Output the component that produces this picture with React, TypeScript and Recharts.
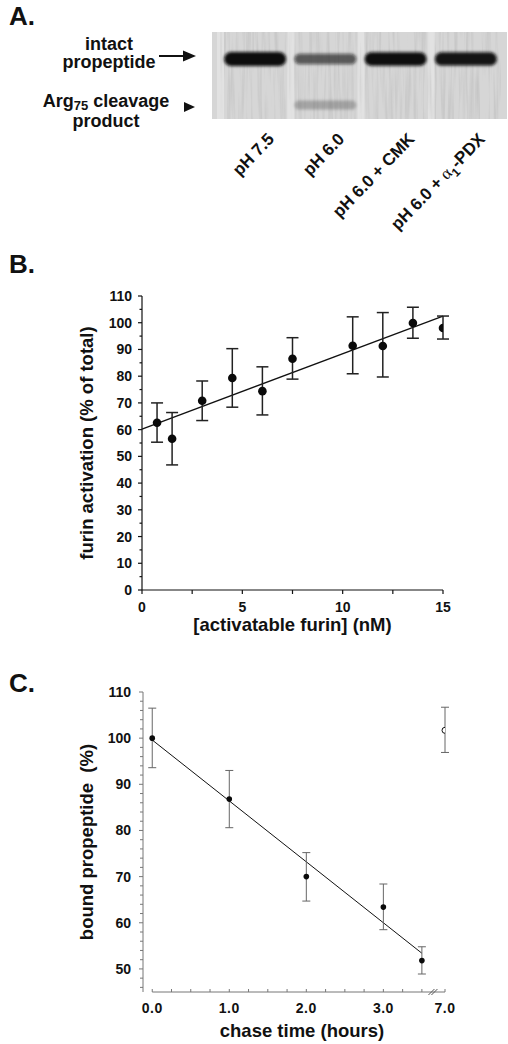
import React from 'react';
import {
  ComposedChart,
  ScatterChart,
  Scatter,
  Bar,
  XAxis,
  YAxis,
  ErrorBar,
  ReferenceLine,
  ReferenceDot,
  CartesianGrid,
} from 'recharts';

const FONT = '"Liberation Sans", Arial, Helvetica, sans-serif';

// ---------- Panel A: gel ----------
const lanes = ['pH 7.5', 'pH 6.0', 'pH 6.0 + CMK', 'pH 6.0 + α1-PDX'];
const intactIntensity = [1.0, 0.6, 0.95, 0.92];
const cleavageIntensity = [0, 0.22, 0, 0];
const INTACT_MOBILITY = 31;
const CLEAVAGE_MOBILITY = 84;
const GEL_DEPTH = 100;

// ---------- Panel B ----------
const furinConc = [0.75, 1.5, 3, 4.5, 6, 7.5, 10.5, 12, 13.5, 15];
const furinActivation = [62.6, 56.6, 70.8, 79.3, 74.4, 86.5, 91.4, 91.3, 99.9, 98.0];
const furinErrLow = [55.3, 46.8, 63.4, 68.4, 65.5, 78.9, 80.9, 79.7, 94.2, 93.9];
const furinErrHigh = [70.0, 66.4, 78.2, 90.3, 83.5, 94.4, 102.2, 103.8, 105.8, 102.5];
const furinFitX = [0, 15];
const furinFitY = [60.2, 102.5];
const furinYTicks = [0, 5, 10, 15, 20, 25, 30, 35, 40, 45, 50, 55, 60, 65, 70, 75, 80, 85, 90, 95, 100, 105, 110];
const furinXTicks = [0, 2.5, 5, 7.5, 10, 12.5, 15];

// ---------- Panel C ----------
const chaseHours = [0, 1, 2, 3, 3.5];
const boundPct = [100.0, 86.8, 70.0, 63.4, 51.8];
const boundLow = [93.6, 80.6, 64.7, 58.5, 48.9];
const boundHigh = [106.5, 93.0, 75.2, 68.4, 54.8];
const controlHours = [7.0];
const controlPct = [101.7];
const controlLow = [96.9];
const controlHigh = [106.7];
const chaseFitX = [0, 3.5];
const chaseFitY = [99.6, 53.4];
const boundYTicks = [46, 48, 50, 52, 54, 56, 58, 60, 62, 64, 66, 68, 70, 72, 74, 76, 78, 80, 82, 84, 86, 88, 90, 92, 94, 96, 98, 100, 102, 104, 106, 108, 110];
const chaseXTicksHours = [0, 0.25, 0.5, 0.75, 1, 1.25, 1.5, 1.75, 2, 2.25, 2.5, 2.75, 3, 3.25, 3.5, 7];

// broken x axis: everything past the break is drawn at the break position
const BREAK_AT = 3.6;
const BREAK_POS = 3.8;
const toAxis = (h: number) => (h <= BREAK_AT ? h : BREAK_POS + (h - 7) * 0.1);
const fromAxis = (p: number) => (p <= BREAK_AT ? p : 7 + (p - BREAK_POS) / 0.1);

// ---------- data tables ----------
const laneData = lanes.map((lane) => ({ lane, depth: GEL_DEPTH }));
const intactBands = lanes.map((lane, i) => ({ lane, mobility: INTACT_MOBILITY, intensity: intactIntensity[i], kind: 'intact' }));
const cleavageBands = lanes.map((lane, i) => ({ lane, mobility: CLEAVAGE_MOBILITY, intensity: cleavageIntensity[i], kind: 'cleavage' }));

const furinRows = furinConc.map((x, i) => ({
  x,
  y: furinActivation[i],
  err: [furinActivation[i] - furinErrLow[i], furinErrHigh[i] - furinActivation[i]],
}));
const furinFit = furinFitX.map((x, i) => ({ x, y: furinFitY[i] }));

const chaseRows = chaseHours.map((h, i) => ({
  x: toAxis(h),
  y: boundPct[i],
  err: [boundPct[i] - boundLow[i], boundHigh[i] - boundPct[i]],
}));
const controlRows = controlHours.map((h, i) => ({
  x: toAxis(h),
  y: controlPct[i],
  err: [controlPct[i] - controlLow[i], controlHigh[i] - controlPct[i]],
}));
const chaseFit = chaseFitX.map((x, i) => ({ x, y: chaseFitY[i] }));
const chaseXTicks = chaseXTicksHours.map(toAxis);

// ---------- shapes / ticks ----------
const LaneTrack = (p: any) => {
  const x = Number(p.x), y = Number(p.y), w = Number(p.width), h = Math.abs(Number(p.height));
  const top = Math.min(y, y + Number(p.height));
  return (
    <g>
      <rect x={x} y={top} width={w} height={h} fill="#ccc" filter="url(#gelNoise)" />
      <rect x={x - 3} y={top} width={7} height={h} fill="#fff" opacity={0.3} />
    </g>
  );
};

const Band = (p: any) => {
  const I = p.payload?.intensity ?? 0;
  if (!I) return <g />;
  const w = 62;
  const h = p.payload.kind === 'cleavage' ? 9 : 5 + 9 * I;
  return (
    <g filter="url(#bandBlur)">
      <rect x={p.cx - w / 2} y={p.cy - h / 2} width={w} height={h} rx={h / 2} fill="#0b0b0b" fillOpacity={Math.min(1, I * 1.05)} />
    </g>
  );
};

const LaneTick = (p: any) => {
  const v: string = p.payload.value;
  let content: any = v;
  if (v.includes('α1')) {
    const [pre, post] = v.split('α1');
    content = (
      <>
        {pre}
        <tspan fontFamily="'Liberation Serif', 'DejaVu Serif', serif" fontWeight="normal">α</tspan>
        <tspan dy={5} fontSize={12}>1</tspan>
        <tspan dy={-5}>{post}</tspan>
      </>
    );
  }
  return (
    <g transform={`translate(${p.x + 20},${p.y + 21}) rotate(-46)`}>
      <text x={0} y={0} textAnchor="end" fontFamily={FONT} fontWeight="bold" fontSize={17} fill="#111">
        {content}
      </text>
    </g>
  );
};

const BYTick = (p: any) => {
  const v = p.payload.value;
  const major = v % 10 === 0;
  return (
    <g>
      <line x1={p.x - (major ? 4 : 2.5)} x2={p.x} y1={p.y} y2={p.y} stroke="#111" strokeWidth={1.2} />
      {major && (
        <text x={p.x - 10} y={p.y + 5} textAnchor="end" fontFamily={FONT} fontWeight="bold" fontSize={14} fill="#111">
          {v}
        </text>
      )}
    </g>
  );
};

const BXTick = (p: any) => {
  const v = p.payload.value;
  const major = v % 5 === 0;
  return (
    <g>
      <line x1={p.x} x2={p.x} y1={p.y} y2={p.y + 4} stroke="#111" strokeWidth={1.2} />
      {major && (
        <text x={p.x} y={p.y + 22} textAnchor="middle" fontFamily={FONT} fontWeight="bold" fontSize={14} fill="#111">
          {v}
        </text>
      )}
    </g>
  );
};

const CYTick = (p: any) => {
  const v = p.payload.value;
  const major = v % 10 === 0;
  return (
    <g>
      <line x1={p.x - (major ? 4 : 3)} x2={p.x} y1={p.y} y2={p.y} stroke="#777" strokeWidth={1} />
      {major && (
        <text x={p.x - 12} y={p.y + 5} textAnchor="end" fontFamily={FONT} fontWeight="bold" fontSize={14} fill="#111">
          {v}
        </text>
      )}
    </g>
  );
};

const CXTick = (p: any) => {
  const v = p.payload.value;
  const hours = fromAxis(v);
  const major = Math.abs(hours - Math.round(hours)) < 1e-6;
  return (
    <g>
      <line x1={p.x} x2={p.x} y1={p.y} y2={p.y - 3} stroke="#777" strokeWidth={1} />
      {major && (
        <text x={p.x} y={p.y + 21} textAnchor="middle" fontFamily={FONT} fontWeight="bold" fontSize={14} letterSpacing={0.5} fill="#111">
          {hours.toFixed(1)}
        </text>
      )}
    </g>
  );
};

const BreakMark = (p: any) => (
  <g stroke="#555" strokeWidth={1}>
    <line x1={p.cx - 5} y1={p.cy + 3} x2={p.cx + 1} y2={p.cy - 3} />
    <line x1={p.cx - 2} y1={p.cy + 3} x2={p.cx + 4} y2={p.cy - 3} />
  </g>
);

const yTitle = (text: string) => (props: any) => {
  const vb = props.viewBox || {};
  const cx = 93;
  const cy = (vb.y ?? 0) + (vb.height ?? 0) / 2;
  return (
    <text x={cx} y={cy} transform={`rotate(-90 ${cx} ${cy})`} textAnchor="middle" fontFamily={FONT} fontWeight="bold" fontSize={18.5} fill="#111">
      {text}
    </text>
  );
};

const xTitle = (text: string, dx: number, dy: number) => (props: any) => {
  const vb = props.viewBox || {};
  return (
    <text x={(vb.x ?? 0) + (vb.width ?? 0) / 2 + dx} y={(vb.y ?? 0) + dy} textAnchor="middle" fontFamily={FONT} fontWeight="bold" fontSize={18.5} fill="#111">
      {text}
    </text>
  );
};

export default function App() {
  return (
    <div style={{ position: 'absolute', left: 0, top: 0, width: 508, height: 1044, background: '#fff', overflow: 'hidden' }}>
      <svg width={1} height={1} style={{ position: 'absolute', left: 0, top: 0 }}>
        <defs>
          <filter id="gelNoise" x="0" y="0" width="1" height="1" colorInterpolationFilters="sRGB">
            <feTurbulence type="fractalNoise" baseFrequency="0.35 0.015" numOctaves={2} seed={7} result="t" />
            <feColorMatrix in="t" type="matrix" values="0 0 0 0 0.62  0 0 0 0 0.62  0 0 0 0 0.62  0.7 0 0 0 -0.3" />
          </filter>
          <filter id="bandBlur" x="-0.2" y="-1" width="1.4" height="3">
            <feGaussianBlur stdDeviation="1.4" />
          </filter>
        </defs>
      </svg>

      {/* Panel A */}
      <div style={{ position: 'absolute', left: 0, top: 0 }}>
        <ComposedChart width={508} height={240} data={laneData} margin={{ top: 32, right: 1, bottom: 0, left: 212 }} barCategoryGap={0}>
          <CartesianGrid fill="#d6d6d6" stroke="none" horizontal={false} vertical={false} />
          <XAxis
            dataKey="lane"
            type="category"
            allowDuplicatedCategory={false}
            padding={{ left: 8, right: 6 }}
            height={121}
            axisLine={false}
            tickLine={false}
            tickSize={0}
            tickMargin={0}
            interval={0}
            tick={(p: any) => <LaneTick {...p} />}
          />
          <YAxis type="number" domain={[0, GEL_DEPTH]} reversed hide />
          <Bar dataKey="depth" shape={(p: any) => <LaneTrack {...p} />} isAnimationActive={false} />
          <Scatter data={intactBands} dataKey="mobility" shape={(p: any) => <Band {...p} />} isAnimationActive={false} />
          <Scatter data={cleavageBands} dataKey="mobility" shape={(p: any) => <Band {...p} />} isAnimationActive={false} />
        </ComposedChart>
      </div>

      {/* Panel B */}
      <div style={{ position: 'absolute', left: 0, top: 250 }}>
        <ScatterChart width={508} height={390} margin={{ top: 46, right: 65, bottom: 0, left: 0 }}>
          <XAxis
            type="number"
            dataKey="x"
            domain={[0, 15]}
            allowDataOverflow
            ticks={furinXTicks}
            interval={0}
            height={50}
            tickSize={0}
            tickMargin={0}
            tickLine={false}
            axisLine={{ stroke: '#111', strokeWidth: 1.2 }}
            tick={(p: any) => <BXTick {...p} />}
            label={xTitle('[activatable furin] (nM)', 0, 41)}
          />
          <YAxis
            type="number"
            dataKey="y"
            domain={[0, 110]}
            allowDataOverflow
            ticks={furinYTicks}
            interval={0}
            width={142}
            tickSize={0}
            tickMargin={0}
            tickLine={false}
            axisLine={{ stroke: '#111', strokeWidth: 1.2 }}
            tick={(p: any) => <BYTick {...p} />}
            label={yTitle('furin activation (% of total)')}
          />
          <ReferenceLine segment={furinFit} stroke="#111" strokeWidth={1.3} ifOverflow="visible" />
          <Scatter
            data={furinRows}
            isAnimationActive={false}
            shape={(p: any) => <circle cx={p.cx} cy={p.cy} r={4.3} fill="#0a0a0a" />}
          >
            <ErrorBar dataKey="err" direction="y" width={6} stroke="#222" strokeWidth={1.5} isAnimationActive={false} />
          </Scatter>
        </ScatterChart>
      </div>

      {/* Panel C */}
      <div style={{ position: 'absolute', left: 0, top: 650 }}>
        <ScatterChart width={508} height={394} margin={{ top: 42, right: 63, bottom: 0, left: 0 }}>
          <XAxis
            type="number"
            dataKey="x"
            domain={[-0.12, BREAK_POS]}
            allowDataOverflow
            ticks={chaseXTicks}
            interval={0}
            height={52}
            tickSize={0}
            tickMargin={0}
            tickLine={false}
            axisLine={false}
            tick={(p: any) => <CXTick {...p} />}
            label={xTitle('chase time (hours)', 8, 45)}
          />
          <YAxis
            type="number"
            dataKey="y"
            domain={[45, 110]}
            allowDataOverflow
            ticks={boundYTicks}
            interval={0}
            width={143}
            tickSize={0}
            tickMargin={0}
            tickLine={false}
            axisLine={{ stroke: '#777', strokeWidth: 1 }}
            tick={(p: any) => <CYTick {...p} />}
            label={yTitle('bound propeptide\u00a0\u00a0(%)')}
          />
          <ReferenceLine segment={[{ x: 0, y: 45 }, { x: BREAK_POS, y: 45 }]} stroke="#777" strokeWidth={1} ifOverflow="visible" />
          <ReferenceDot x={(3.5 + BREAK_POS) / 2} y={45} ifOverflow="visible" shape={(p: any) => <BreakMark {...p} />} />
          <ReferenceLine segment={chaseFit} stroke="#111" strokeWidth={1} ifOverflow="visible" />
          <Scatter
            data={chaseRows}
            isAnimationActive={false}
            shape={(p: any) => <circle cx={p.cx} cy={p.cy} r={2.8} fill="#0a0a0a" />}
          >
            <ErrorBar dataKey="err" direction="y" width={4} stroke="#666" strokeWidth={1} isAnimationActive={false} />
          </Scatter>
          <Scatter
            data={controlRows}
            isAnimationActive={false}
            shape={(p: any) => <circle cx={p.cx} cy={p.cy} r={3} fill="#fff" stroke="#111" strokeWidth={1} />}
          >
            <ErrorBar dataKey="err" direction="y" width={4} stroke="#666" strokeWidth={1} isAnimationActive={false} />
          </Scatter>
        </ScatterChart>
      </div>

      {/* Panel letters and gel annotations */}
      <svg width={508} height={1044} style={{ position: 'absolute', left: 0, top: 0, pointerEvents: 'none' }}>
        <g fontFamily={FONT} fontWeight="bold" fill="#111">
          <text x={9} y={25} fontSize={26}>A.</text>
          <text x={9} y={273} fontSize={26}>B.</text>
          <text x={9} y={692} fontSize={26}>C.</text>
          <text x={109} y={50} fontSize={18} textAnchor="middle">intact</text>
          <text x={109} y={68} fontSize={18} textAnchor="middle">propeptide</text>
          <text x={106} y={107} fontSize={18} textAnchor="middle">
            Arg<tspan dy={3} fontSize={13}>75</tspan>
            <tspan dy={-3}> cleavage</tspan>
          </text>
          <text x={106} y={127} fontSize={18} textAnchor="middle">product</text>
        </g>
        <line x1={159} y1={56} x2={185} y2={56} stroke="#111" strokeWidth={2} />
        <polygon points="183,50.5 196,56 183,61.5" fill="#111" />
        <polygon points="184,102 195,107 184,112" fill="#111" />
      </svg>
    </div>
  );
}
